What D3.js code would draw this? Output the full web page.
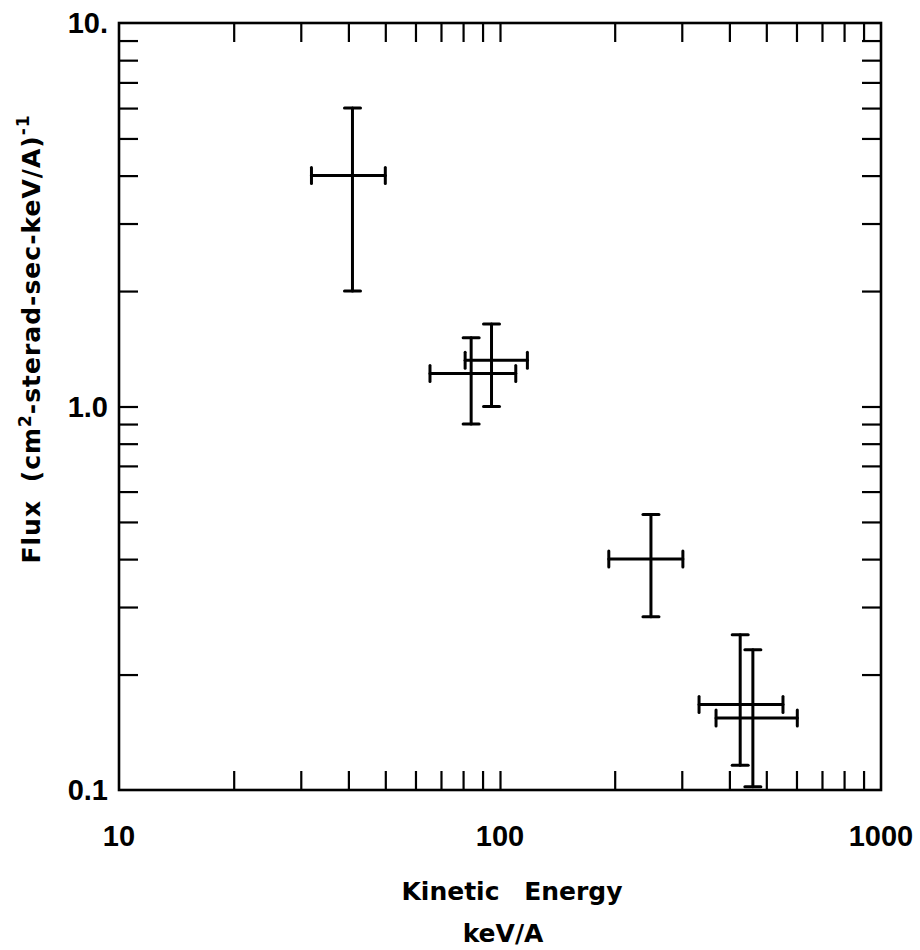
<html>
<head>
<script src="https://cdn.jsdelivr.net/npm/d3@7"></script>
<style>
  body { margin: 0; background: white; }
  text { fill: black; }
</style>
</head>
<body>
<svg id="viz" width=920 height=950></svg>
<script>
  var energy   = [41, 84, 95, 249, 427, 461];
  var energyLo = [32, 65.5, 81, 193, 333, 369];
  var energyHi = [50, 110, 118, 302, 553, 603];
  var flux     = [4.0, 1.22, 1.32, 0.40, 0.167, 0.154];
  var fluxLo   = [2.0, 0.90, 1.0, 0.283, 0.116, 0.102];
  var fluxHi   = [6.0, 1.51, 1.64, 0.523, 0.254, 0.232];

  var xTicks = [20,30,40,50,60,70,80,90,100,200,300,400,500,600,700,800,900];
  var yTicks = [0.2,0.3,0.4,0.5,0.6,0.7,0.8,0.9,1,2,3,4,5,6,7,8,9];
  var xLabelVals = [10, 100, 1000];
  var xLabelText = ["10", "100", "1000"];
  var yLabelVals = [0.1, 1, 10];
  var yLabelText = ["0.1", "1.0", "10."];

  // frame edges (window.top is reserved, so prefix them)
  var pLeft = 119, pRight = 881, pTop = 23, pBottom = 790;
  var tick = 19;

  var svg = d3.select("#viz");

  var x = d3.scaleLog().domain([10, 1000]).range([pLeft, pRight]);
  var y = d3.scaleLog().domain([0.1, 10]).range([pBottom, pTop]);

  // inward ticks on all four sides
  function clean(g) {
    g.select(".domain").remove();
    g.selectAll("line").attr("stroke", "black").attr("stroke-width", 2.2);
  }
  svg.append("g")
    .attr("transform", "translate(0," + pBottom + ")")
    .call(d3.axisBottom(x).tickValues(xTicks).tickSizeInner(-tick).tickSizeOuter(0).tickFormat(""))
    .call(clean);
  svg.append("g")
    .attr("transform", "translate(0," + pTop + ")")
    .call(d3.axisTop(x).tickValues(xTicks).tickSizeInner(-tick).tickSizeOuter(0).tickFormat(""))
    .call(clean);
  svg.append("g")
    .attr("transform", "translate(" + pLeft + ",0)")
    .call(d3.axisLeft(y).tickValues(yTicks).tickSizeInner(-tick).tickSizeOuter(0).tickFormat(""))
    .call(clean);
  svg.append("g")
    .attr("transform", "translate(" + pRight + ",0)")
    .call(d3.axisRight(y).tickValues(yTicks).tickSizeInner(-tick).tickSizeOuter(0).tickFormat(""))
    .call(clean);

  svg.append("rect")
    .attr("x", pLeft).attr("y", pTop)
    .attr("width", pRight - pLeft).attr("height", pBottom - pTop)
    .attr("fill", "none").attr("stroke", "black").attr("stroke-width", 2.6);

  // tick labels
  svg.selectAll(".xlab")
    .data(xLabelVals).enter()
    .append("text")
    .attr("x", function(d) { return x(d); })
    .attr("y", 846)
    .attr("text-anchor", "middle")
    .style("font-family", "Liberation Sans")
    .style("font-weight", "bold")
    .style("font-size", "29px")
    .text(function(d, i) { return xLabelText[i]; });

  svg.selectAll(".ylab")
    .data(yLabelVals).enter()
    .append("text")
    .attr("x", 108)
    .attr("y", function(d) { return y(d) + 10; })
    .attr("text-anchor", "end")
    .style("font-family", "Liberation Sans")
    .style("font-weight", "bold")
    .style("font-size", "29px")
    .text(function(d, i) { return yLabelText[i]; });

  // axis titles
  svg.append("text")
    .attr("x", 512).attr("y", 900)
    .attr("text-anchor", "middle")
    .style("font-family", "DejaVu Sans")
    .style("font-weight", "bold")
    .style("font-size", "25px")
    .style("word-spacing", "16px")
    .text("Kinetic Energy");
  svg.append("text")
    .attr("x", 503).attr("y", 942)
    .attr("text-anchor", "middle")
    .style("font-family", "DejaVu Sans")
    .style("font-weight", "bold")
    .style("font-size", "25px")
    .text("keV/A");

  var ylab = svg.append("text")
    .attr("transform", "translate(40,339) rotate(-90)")
    .attr("text-anchor", "middle")
    .style("font-family", "DejaVu Sans")
    .style("font-weight", "bold")
    .style("font-size", "25px")
    .style("letter-spacing", "1px")
    .style("word-spacing", "8px");
  ylab.append("tspan").text("Flux (cm");
  ylab.append("tspan").attr("dy", -9).style("font-size", "17px").text("2");
  ylab.append("tspan").attr("dy", 9).text("-sterad-sec-keV/A)");
  ylab.append("tspan").attr("dy", -11).style("font-size", "17px").text("-1");

  // error bars
  var pts = energy.map(function(e, i) {
    return { e: e, lo: energyLo[i], hi: energyHi[i], f: flux[i], flo: fluxLo[i], fhi: fluxHi[i] };
  });
  var cap = 8;
  var bars = svg.selectAll(".pt").data(pts).enter().append("g")
    .attr("stroke", "black").attr("stroke-width", 3).attr("stroke-linecap", "round");
  // horizontal
  bars.append("line")
    .attr("x1", function(d) { return x(d.lo); }).attr("x2", function(d) { return x(d.hi); })
    .attr("y1", function(d) { return y(d.f); }).attr("y2", function(d) { return y(d.f); });
  bars.append("line")
    .attr("x1", function(d) { return x(d.lo); }).attr("x2", function(d) { return x(d.lo); })
    .attr("y1", function(d) { return y(d.f) - cap; }).attr("y2", function(d) { return y(d.f) + cap; });
  bars.append("line")
    .attr("x1", function(d) { return x(d.hi); }).attr("x2", function(d) { return x(d.hi); })
    .attr("y1", function(d) { return y(d.f) - cap; }).attr("y2", function(d) { return y(d.f) + cap; });
  // vertical
  bars.append("line")
    .attr("x1", function(d) { return x(d.e); }).attr("x2", function(d) { return x(d.e); })
    .attr("y1", function(d) { return y(d.flo); }).attr("y2", function(d) { return y(d.fhi); });
  bars.append("line")
    .attr("x1", function(d) { return x(d.e) - cap; }).attr("x2", function(d) { return x(d.e) + cap; })
    .attr("y1", function(d) { return y(d.flo); }).attr("y2", function(d) { return y(d.flo); });
  bars.append("line")
    .attr("x1", function(d) { return x(d.e) - cap; }).attr("x2", function(d) { return x(d.e) + cap; })
    .attr("y1", function(d) { return y(d.fhi); }).attr("y2", function(d) { return y(d.fhi); });
</script>
</body>
</html>
